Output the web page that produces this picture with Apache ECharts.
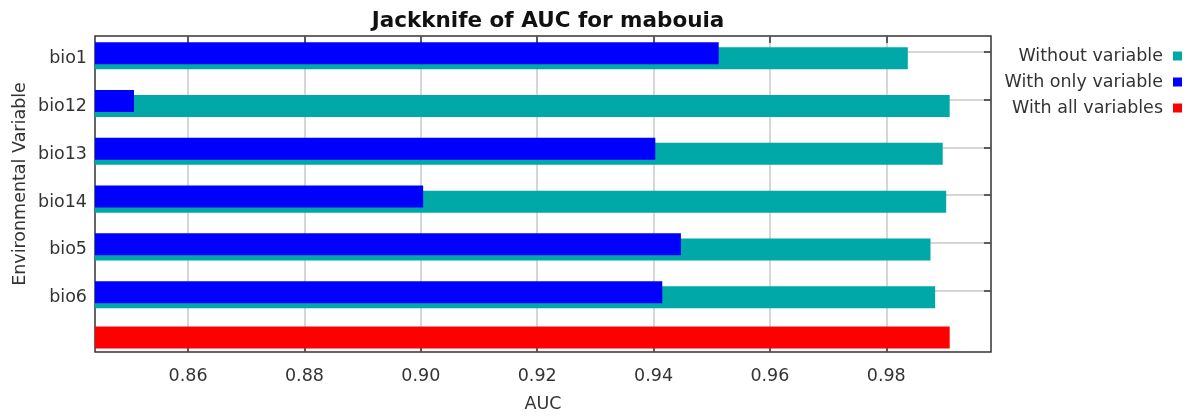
<!DOCTYPE html>
<html><head><meta charset="utf-8">
<script src="https://cdn.jsdelivr.net/npm/echarts@6/dist/echarts.min.js"></script>
<style>html,body{margin:0;padding:0;background:#fff}#c{width:1197px;height:420px}</style>
</head><body><div id="c"></div>
<script>
const chartTitle = 'Jackknife of AUC for mabouia';
const categories = ['bio1', 'bio12', 'bio13', 'bio14', 'bio5', 'bio6'];
const withoutVariable = [0.9837, 0.9909, 0.9897, 0.9903, 0.9876, 0.9884];
const withOnlyVariable = [0.9512, 0.8507, 0.9403, 0.9004, 0.9447, 0.9415];
const withAllVariables = [0.9909];
const xTicks = [0.86, 0.88, 0.90, 0.92, 0.94, 0.96, 0.98];
const seriesNames = ['Without variable', 'With only variable', 'With all variables'];
const xAxisName = 'AUC';
const yAxisName = 'Environmental Variable';

const colors = { without: '#00a8a8', only: '#0000ff', all: '#ff0000' };
const X_MIN = 0.844, X_MAX = 0.998;
const FONT = 'DejaVu Sans';
const FS = 17.5;
const TXT = '#333';
const GRIDLINE = '#c8c8c8';
const L = 95, W = 896;

const catIdx = categories.map((_, i) => i);

const chart = echarts.init(document.getElementById('c'), null, { renderer: 'canvas' });
chart.setOption({
  animation: false,
  backgroundColor: '#fff',
  textStyle: { fontFamily: FONT },
  title: {
    text: chartTitle, left: 543, textAlign: 'center', top: 5,
    textStyle: { fontFamily: FONT, fontSize: 21.5, fontWeight: 'bold', color: '#111' }
  },
  legend: {
    data: seriesNames, orient: 'vertical', right: 10, top: 42, align: 'right',
    icon: 'rect', itemWidth: 9, itemHeight: 9, itemGap: 8,
    textStyle: { fontFamily: FONT, fontSize: FS, color: TXT, padding: [0, 5, 0, 0] }
  },
  grid: [
    { left: L, top: 36, width: W, height: 316, show: true, borderColor: '#333', borderWidth: 1.5 },
    { left: L, top: 27.8, width: W, height: 286.8 },
    { left: L, top: 31.8, width: W, height: 286.8 },
    { left: L, top: 326.5, width: W, height: 22 },
    { left: L, top: 34.8, width: W, height: 286.8 }
  ],
  xAxis: [
    {
      gridIndex: 0, type: 'value', min: X_MIN, max: X_MAX, position: 'bottom',
      axisLine: { show: false },
      axisTick: { show: true, inside: true, length: 5, customValues: xTicks, lineStyle: { color: '#333', width: 1.5 } },
      axisLabel: { customValues: xTicks, formatter: v => v.toFixed(2), fontFamily: FONT, fontSize: FS, color: TXT, margin: 15 },
      splitLine: { show: true, lineStyle: { color: GRIDLINE, width: 1.5 } },
      name: xAxisName, nameLocation: 'middle', nameGap: 43,
      nameTextStyle: { fontFamily: FONT, fontSize: FS, color: TXT }
    },
    {
      gridIndex: 0, type: 'value', min: X_MIN, max: X_MAX, position: 'top',
      axisLine: { show: false },
      axisTick: { show: true, inside: true, length: 7, customValues: xTicks, lineStyle: { color: '#333', width: 1.5 } },
      axisLabel: { show: false }, splitLine: { show: false }
    },
    { gridIndex: 1, type: 'value', min: X_MIN, max: X_MAX, show: false },
    { gridIndex: 2, type: 'value', min: X_MIN, max: X_MAX, show: false },
    { gridIndex: 3, type: 'value', min: X_MIN, max: X_MAX, show: false },
    { gridIndex: 4, type: 'value', min: X_MIN, max: X_MAX, show: false }
  ],
  yAxis: [
    {
      gridIndex: 0, type: 'value', min: 0, max: 1,
      axisLine: { show: false }, axisTick: { show: false }, axisLabel: { show: false }, splitLine: { show: false },
      name: yAxisName, nameLocation: 'middle', nameGap: 66,
      nameTextStyle: { fontFamily: FONT, fontSize: FS, color: TXT, padding: [0, 0, 0, 20] }
    },
    {
      gridIndex: 1, type: 'value', min: -0.5, max: 5.5, inverse: true, position: 'right',
      axisLine: { show: false }, axisLabel: { show: false },
      axisTick: { show: true, inside: true, length: 7, customValues: catIdx, lineStyle: { color: '#333', width: 1.5 } },
      splitLine: { show: true, lineStyle: { color: GRIDLINE, width: 1.5 } }
    },
    {
      gridIndex: 2, type: 'category', data: categories, inverse: true,
      axisLine: { show: false }, axisTick: { show: false }, axisLabel: { show: false }
    },
    { gridIndex: 3, type: 'category', data: [''], show: false },
    {
      gridIndex: 4, type: 'category', data: categories, inverse: true,
      axisLine: { show: false }, axisTick: { show: false }, splitLine: { show: false },
      axisLabel: { fontFamily: FONT, fontSize: FS, color: TXT, margin: 8 }
    }
  ],
  series: [
    {
      name: seriesNames[1], type: 'bar', xAxisIndex: 3, yAxisIndex: 2,
      data: withOnlyVariable, barWidth: 22, barGap: '-77%', z: 3,
      itemStyle: { color: colors.only }
    },
    {
      name: seriesNames[0], type: 'bar', xAxisIndex: 3, yAxisIndex: 2,
      data: withoutVariable, barWidth: 22, barGap: '-77%', z: 2,
      itemStyle: { color: colors.without }
    },
    {
      name: seriesNames[2], type: 'bar', xAxisIndex: 4, yAxisIndex: 3,
      data: withAllVariables, barWidth: 22,
      itemStyle: { color: colors.all }
    }
  ]
});
</script>
</body></html>
